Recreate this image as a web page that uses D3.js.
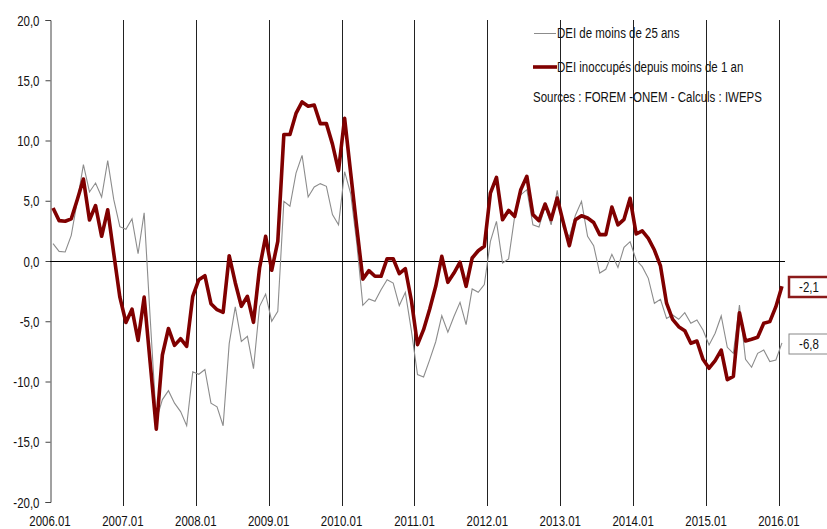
<!DOCTYPE html>
<html lang="fr">
<head>
  <meta charset="UTF-8">
  <title>DEI - évolution</title>
  <style>
    body {
      margin: 0;
      background: #fff;
    }
    svg {
      display: block;
      font-family: "Liberation Sans", Arial, sans-serif;
    }
  </style>
</head>
<body>
  <svg id="chart" width="827" height="529"></svg>

  <script src="https://cdn.jsdelivr.net/npm/d3@7/dist/d3.min.js"></script>
  <script>
    // monthly categories 2006.01 .. 2016.01
    const months = d3.range(121).map(i => `${2006 + Math.floor(i / 12)}.${String(i % 12 + 1).padStart(2, "0")}`);

    const yearLabels = ["2006.01", "2007.01", "2008.01", "2009.01", "2010.01", "2011.01",
      "2012.01", "2013.01", "2014.01", "2015.01", "2016.01"];

    const yTicks = [-20, -15, -10, -5, 0, 5, 10, 15, 20];

    // DEI de moins de 25 ans
    const jeunes = [
      1.44, 0.8, 0.75, 2.13, 5.0, 8.0, 5.73, 6.47, 5.31, 8.33, 5.09, 2.85,
      2.63, 3.5, 0.6, 4.0, -4.8, -13.2, -11.5, -10.76, -11.8, -12.5, -13.67, -9.2,
      -9.4, -9.0, -11.8, -12.1, -13.67, -6.86, -3.8, -6.67, -6.25, -8.93, -3.76, -2.74,
      -5.0, -4.18, 4.95, 4.54, 7.3, 8.77, 5.31, 6.14, 6.42, 6.2, 3.85, 3.0,
      7.41, 5.6, 1.5, -3.68, -3.15, -3.35, -2.38, -1.55, -1.83, -3.7, -2.6, -5.8,
      -9.43, -9.63, -8.2, -6.7, -4.54, -5.9, -4.6, -3.43, -5.28, -2.32, -2.6, -1.96,
      1.63, 3.29, -0.17, 0.17, 3.7, 5.5, 5.92, 3.0, 2.82, 4.54, 3.0, 5.86,
      2.8, 2.0, 3.8, 4.95, 2.05, 1.27, -1.0, -0.69, 0.55, -0.53, 1.13, 1.6,
      0.08, -0.47, -1.44, -3.51, -3.18, -4.76, -4.48, -4.84, -4.29, -5.17, -4.9, -5.73,
      -6.97, -6.0, -4.56, -7.16, -7.66, -3.65, -8.16, -8.82, -7.66, -7.39, -8.35, -8.22,
      -6.8
    ];

    // DEI inoccupés depuis moins de 1 an
    const inoccupes = [
      4.4, 3.35, 3.3, 3.5, 5.1, 6.8, 3.4, 4.6, 2.05, 4.25, 0.6, -3.0,
      -5.1, -4.0, -6.6, -3.0, -8.5, -13.95, -7.8, -5.6, -7.0, -6.45, -7.08, -2.93,
      -1.55, -1.22, -3.54, -4.04, -4.26, 0.44, -1.8, -3.76, -2.93, -5.09, -0.58, 2.05,
      -0.77, 1.63, 10.5, 10.5, 12.25, 13.2, 12.85, 12.95, 11.4, 11.4, 9.7, 7.5,
      11.85, 7.3, 2.8, -1.5, -0.8, -1.27, -1.27, 0.19, 0.19, -1.05, -0.64, -3.3,
      -6.94, -5.7, -4.0, -2.1, 0.39, -1.77, -1.0, -0.1, -2.1, 0.25, 0.85, 1.22,
      5.64, 6.94, 3.43, 4.2, 3.7, 5.92, 7.03, 3.85, 3.35, 4.73, 3.43, 5.23,
      3.2, 1.27, 3.43, 3.76, 3.57, 3.2, 2.19, 2.19, 4.48, 3.0, 3.46, 5.2,
      2.24, 2.5, 1.88, 0.91, -0.41, -3.5, -4.84, -5.45, -5.78, -6.83, -6.64, -8.16,
      -8.9, -8.27, -7.39, -9.85, -9.57, -4.29, -6.64, -6.5, -6.33, -5.17, -5.03, -3.79,
      -2.1
    ];

    const svg = d3.select("#chart");
    const plotLeft = 50, plotRight = 785, plotTop = 20, plotBottom = 502;
    // no Arial Narrow here, so squeeze Liberation Sans instead
    const narrow = 0.82;
    const place = (px, py) => `translate(${px},${py}) scale(${narrow},1)`;

    const fr = d3.formatLocale({ decimal: ",", thousands: ".", grouping: [3], currency: ["", " €"], minus: "-" });
    const fmt = fr.format(".1f");

    const x = d3.scaleBand().domain(months).range([plotLeft, plotRight]);
    const xc = m => x(m) + x.bandwidth() / 2;
    const y = d3.scaleLinear().domain([-20, 20]).range([plotBottom, plotTop]);

    // vertical lines at each january
    svg.append("g")
      .selectAll("line")
      .data(yearLabels.slice(1))
      .join("line")
      .attr("x1", d => Math.round(x(d)) + 0.5)
      .attr("x2", d => Math.round(x(d)) + 0.5)
      .attr("y1", plotTop)
      .attr("y2", plotBottom + 4)
      .attr("stroke", "#222")
      .attr("stroke-width", 1);

    // y axis
    const yAxis = svg.append("g")
      .attr("transform", `translate(${plotLeft + 0.5},0)`)
      .call(d3.axisLeft(y).tickValues(yTicks).tickFormat(fmt).tickSize(5));
    yAxis.select(".domain").attr("stroke", "#444");
    yAxis.selectAll(".tick line").attr("stroke", "#444");
    yAxis.selectAll("text")
      .attr("x", 0)
      .attr("dy", null)
      .attr("y", 5)
      .attr("transform", place(-11, 0))
      .attr("font-size", 14)
      .attr("font-family", "Liberation Sans, Arial, sans-serif")
      .attr("fill", "#111");

    // zero line
    svg.append("line")
      .attr("x1", plotLeft)
      .attr("x2", plotRight)
      .attr("y1", Math.round(y(0)) + 0.5)
      .attr("y2", Math.round(y(0)) + 0.5)
      .attr("stroke", "#000")
      .attr("stroke-width", 1);

    // x labels
    svg.append("g")
      .selectAll("text")
      .data(yearLabels)
      .join("text")
      .attr("transform", d => place(x(d), 526))
      .attr("text-anchor", "middle")
      .attr("font-size", 14)
      .attr("fill", "#111")
      .text(d => d);

    const line = d3.line()
      .x((d, i) => xc(months[i]))
      .y(d => y(d));

    svg.append("path")
      .datum(jeunes)
      .attr("fill", "none")
      .attr("stroke", "#8c8c8c")
      .attr("stroke-width", 1.1)
      .attr("d", line);

    svg.append("path")
      .datum(inoccupes)
      .attr("fill", "none")
      .attr("stroke", "#800000")
      .attr("stroke-width", 3.6)
      .attr("stroke-linejoin", "round")
      .attr("d", line);

    // legend
    const legend = svg.append("g").attr("font-size", 14).attr("fill", "#111");
    legend.append("line").attr("x1", 534).attr("x2", 556).attr("y1", 33.5).attr("y2", 33.5)
      .attr("stroke", "#8c8c8c").attr("stroke-width", 1);
    legend.append("text").attr("transform", place(557, 38)).text("DEI de moins de 25 ans");
    legend.append("line").attr("x1", 533).attr("x2", 557).attr("y1", 67).attr("y2", 67)
      .attr("stroke", "#800000").attr("stroke-width", 3.6);
    legend.append("text").attr("transform", place(557, 72)).text("DEI inoccupés depuis moins de 1 an");
    legend.append("text").attr("transform", place(533, 102)).text("Sources : FOREM -ONEM - Calculs : IWEPS");

    // end value boxes
    const last = months.length - 1;
    const endLabels = [
      { v: inoccupes[last], stroke: "#8b1a1a", sw: 2.5 },
      { v: jeunes[last], stroke: "#888", sw: 1 }
    ];
    const boxes = svg.append("g")
      .selectAll("g")
      .data(endLabels)
      .join("g")
      .attr("transform", d => `translate(789,${Math.round(y(d.v)) + 1})`);
    boxes.append("rect")
      .attr("x", 0)
      .attr("y", -10)
      .attr("width", 40)
      .attr("height", 20)
      .attr("fill", "#fff")
      .attr("stroke", d => d.stroke)
      .attr("stroke-width", d => d.sw);
    boxes.append("text")
      .attr("transform", place(20, 5))
      .attr("text-anchor", "middle")
      .attr("font-size", 14)
      .attr("fill", "#111")
      .text(d => fmt(d.v));
  </script>
</body>
</html>
